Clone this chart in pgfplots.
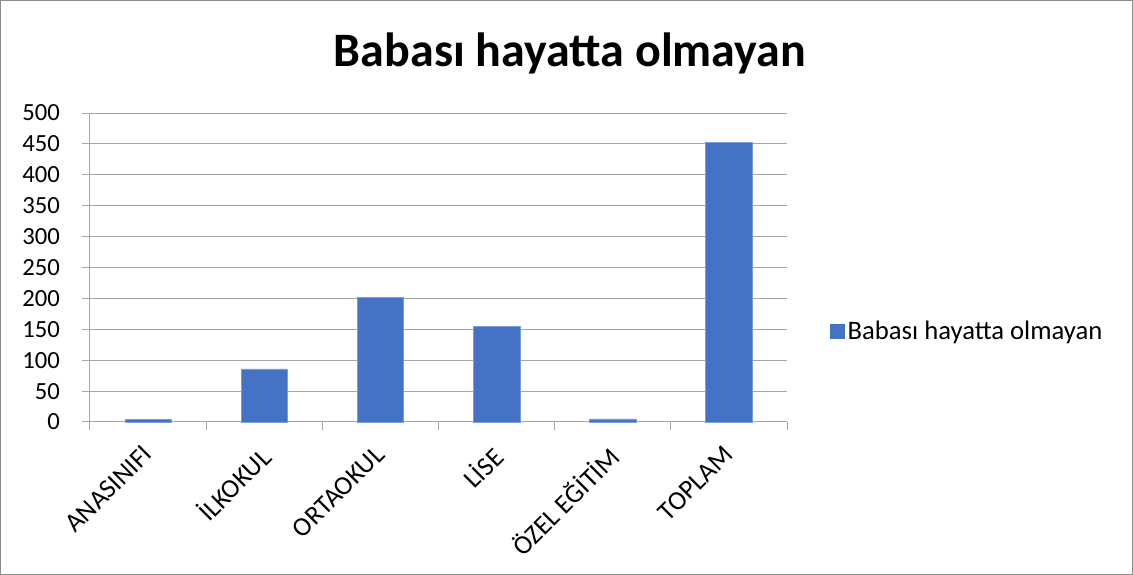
\documentclass[border=0pt]{standalone}
\usepackage{pgfplots}
\pgfplotsset{compat=1.18}
\usepackage{fontspec}
\setmainfont{Carlito}
\definecolor{barblue}{HTML}{4472C4}
\definecolor{gridgray}{HTML}{A6A6A6}
\definecolor{bordergray}{HTML}{8C8C8C}
\begin{document}
\begin{tikzpicture}[x=0.75pt,y=0.75pt]
\useasboundingbox (0,0) rectangle (1133,575);
\draw[bordergray, line width=0.75pt] (0.5,0.5) rectangle (1132.5,574.5);
\node[font=\bfseries\fontsize{36}{42}\selectfont] at (570,522) {Babası hayatta olmayan};
\begin{axis}[
  at={(67.5pt,114.75pt)}, anchor=south west,
  scale only axis,
  width=522.75pt, height=231.75pt,
  xmin=-0.5, xmax=5.5,
  ymin=0, ymax=500,
  ytick={0,50,...,500},
  minor ytick={0,50,...,500},
  xtick={0,...,5},
  xticklabels={ANASINIFI,İLKOKUL,ORTAOKUL,LİSE,ÖZEL EĞİTİM,TOPLAM},
  minor xtick={-0.5,0.5,...,5.5},
  major tick length=0pt,
  minor tick length=6pt,
  tick align=outside,
  axis x line*=bottom,
  axis y line*=left,
  axis line style={gridgray, line width=0.75pt, -},
  minor tick style={gridgray, line width=0.75pt},
  ymajorgrids,
  grid style={gridgray, line width=0.75pt},
  /pgf/number format/assume math mode=true,
  yticklabel style={font=\fontsize{18.5}{22}\selectfont, xshift=-19pt},
  xticklabel style={font=\fontsize{20}{24}\selectfont, xshift=-5pt, yshift=-11.5pt, rotate=45, anchor=north east},
  legend style={at={(1.062,0.294)}, anchor=west, draw=none, fill=none,
    font=\fontsize{20}{24}\selectfont, inner sep=0pt},
  legend image code/.code={\fill[barblue] (0pt,-5.25pt) rectangle (10.5pt,5.25pt);},
  clip=false,
]
\addplot[ybar, bar width=0.4, fill=barblue, draw=barblue!70!white, line width=0.4pt]
  coordinates {(0,4) (1,86) (2,202) (3,155) (4,5) (5,452)};
\addlegendentry{Babası hayatta olmayan}
\end{axis}
\end{tikzpicture}
\end{document}
